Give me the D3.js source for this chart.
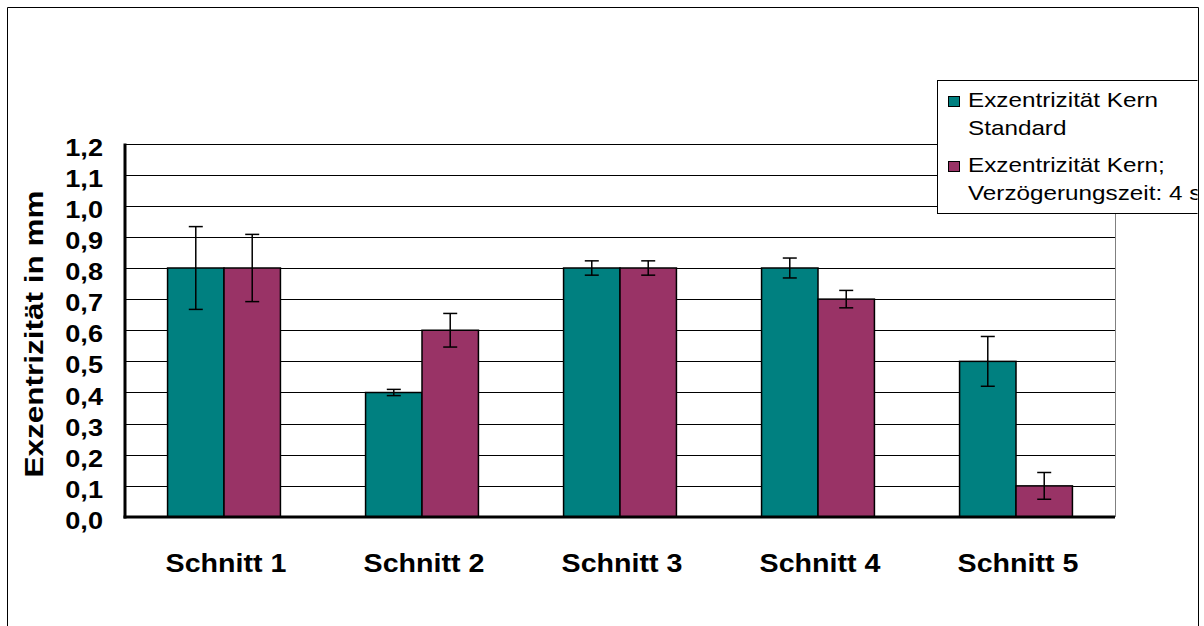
<!DOCTYPE html>
<html>
<head>
<meta charset="utf-8">
<script src="https://cdn.jsdelivr.net/npm/d3@7"></script>
<style>
  html, body { margin: 0; padding: 0; background: #fff; }
  svg { display: block; }
  text { font-family: "Liberation Sans", Arial, sans-serif; fill: #000; }
</style>
</head>
<body>
<svg id="chart" width="1204" height="626"></svg>
<script>
// ---- data ----
const categories = ["Schnitt 1", "Schnitt 2", "Schnitt 3", "Schnitt 4", "Schnitt 5"];
const seriesNames = ["Exzentrizität Kern Standard", "Exzentrizität Kern; Verzögerungszeit: 4 s"];
const legendLines = [["Exzentrizität Kern", "Standard"], ["Exzentrizität Kern;", "Verzögerungszeit: 4 s"]];
const standardValues = [0.8, 0.4, 0.8, 0.8, 0.5];
const delayValues = [0.8, 0.6, 0.8, 0.7, 0.1];
const standardErrors = [0.133, 0.01, 0.023, 0.032, 0.08];
const delayErrors = [0.108, 0.054, 0.023, 0.028, 0.043];
const yTicks = [0, 0.1, 0.2, 0.3, 0.4, 0.5, 0.6, 0.7, 0.8, 0.9, 1.0, 1.1, 1.2];
const yTitle = "Exzentrizität in mm";
const colors = ["#008080", "#993366"];

const series = [
  { name: seriesNames[0], values: standardValues, errors: standardErrors, color: colors[0] },
  { name: seriesNames[1], values: delayValues, errors: delayErrors, color: colors[1] }
];

const svg = d3.select("#chart");
const plot = { left: 125, right: 1115, top: 143.5, bottom: 517 };

const x0 = d3.scaleBand().domain(categories).range([plot.left, plot.right])
  .paddingInner(0.43).paddingOuter(0.215);
const x1 = d3.scaleBand().domain(d3.range(series.length)).range([0, x0.bandwidth()]);
const y = d3.scaleLinear().domain([0, 1.2]).range([plot.bottom, plot.top]);

function stretch(sel, k) {
  sel.each(function () {
    const w = this.getComputedTextLength();
    d3.select(this).attr("textLength", w * k).attr("lengthAdjust", "spacingAndGlyphs");
  });
}

// plot-area right border
svg.append("line")
  .attr("x1", plot.right + 0.5).attr("x2", plot.right + 0.5)
  .attr("y1", plot.top).attr("y2", plot.bottom)
  .attr("stroke", "#808080").attr("stroke-width", 1);

// gridlines
svg.append("g").selectAll("line").data(yTicks.filter(d => d > 0)).join("line")
  .attr("x1", plot.left).attr("x2", plot.right)
  .attr("y1", d => Math.round(y(d)) + 0.5).attr("y2", d => Math.round(y(d)) + 0.5)
  .attr("stroke", "#000").attr("stroke-width", 1);

// bars
const groups = svg.append("g").selectAll("g").data(categories).join("g")
  .attr("transform", c => `translate(${x0(c)},0)`);

groups.selectAll("rect").data((c, i) => series.map((s, si) => ({ si, v: s.values[i], color: s.color })))
  .join("rect")
  .attr("x", d => x1(d.si))
  .attr("width", x1.bandwidth())
  .attr("y", d => y(d.v))
  .attr("height", d => y(0) - y(d.v))
  .attr("fill", d => d.color)
  .attr("stroke", "#000").attr("stroke-width", 1.5);

// error bars
const capW = 14;
const eb = groups.selectAll("g.err").data((c, i) => series.map((s, si) => ({ si, v: s.values[i], e: s.errors[i] })))
  .join("g").attr("class", "err")
  .attr("transform", d => `translate(${x1(d.si) + x1.bandwidth() / 2},0)`);
eb.append("line").attr("x1", 0).attr("x2", 0)
  .attr("y1", d => y(d.v + d.e)).attr("y2", d => y(d.v - d.e))
  .attr("stroke", "#000").attr("stroke-width", 1.5);
eb.append("line").attr("x1", -capW / 2).attr("x2", capW / 2)
  .attr("y1", d => y(d.v + d.e)).attr("y2", d => y(d.v + d.e))
  .attr("stroke", "#000").attr("stroke-width", 1.5);
eb.append("line").attr("x1", -capW / 2).attr("x2", capW / 2)
  .attr("y1", d => y(d.v - d.e)).attr("y2", d => y(d.v - d.e))
  .attr("stroke", "#000").attr("stroke-width", 1.5);

// axes lines
svg.append("line").attr("x1", plot.left).attr("x2", plot.left)
  .attr("y1", plot.top).attr("y2", plot.bottom + 1.5)
  .attr("stroke", "#000").attr("stroke-width", 3);
svg.append("line").attr("x1", plot.left - 1.5).attr("x2", plot.right)
  .attr("y1", plot.bottom).attr("y2", plot.bottom)
  .attr("stroke", "#000").attr("stroke-width", 3);

// y axis tick labels
const fmt = d => d3.format(".1f")(d).replace(".", ",");
const yAxis = d3.axisLeft(y).tickValues(yTicks).tickFormat(fmt).tickSize(0).tickPadding(0);
const yg = svg.append("g").attr("transform", `translate(103,0)`).call(yAxis);
yg.select(".domain").remove();
yg.selectAll("text")
  .attr("font-family", "'Liberation Sans', Arial, sans-serif")
  .attr("font-size", 23).attr("font-weight", "bold").attr("fill", "#000")
  .attr("dy", "0.5em").attr("x", 0);
stretch(yg.selectAll("text"), 1.18);

// x category labels
const xl = svg.append("g").selectAll("text").data(categories).join("text")
  .attr("x", c => x0(c) + x0.bandwidth() / 2 + 2)
  .attr("y", 572)
  .attr("text-anchor", "middle")
  .attr("font-size", 25).attr("font-weight", "bold")
  .text(c => c);
stretch(xl, 1.145);

// y title
const yt = svg.append("text")
  .attr("transform", "translate(43,334) rotate(-90)")
  .attr("text-anchor", "middle")
  .attr("font-size", 25).attr("font-weight", "bold")
  .text(yTitle);
stretch(yt, 1.26);

// legend
const defs = svg.append("defs");
defs.append("clipPath").attr("id", "legclip").append("rect")
  .attr("x", 0).attr("y", 0).attr("width", 1197.5).attr("height", 626);
const leg = svg.append("g").attr("clip-path", "url(#legclip)");
leg.append("rect").attr("x", 937.5).attr("y", 80.5).attr("width", 262).attr("height", 133)
  .attr("fill", "#fff").attr("stroke", "#000").attr("stroke-width", 1);
const items = leg.selectAll("g.item").data(series).join("g").attr("class", "item")
  .attr("transform", (d, i) => `translate(0,${i * 65})`);
items.append("rect").attr("x", 948.5).attr("y", 96.5).attr("width", 11).attr("height", 10)
  .attr("fill", d => d.color).attr("stroke", "#000").attr("stroke-width", 1);
const lt = items.selectAll("text").data((d, i) => legendLines[i]).join("text")
  .attr("x", 968).attr("y", (d, j) => 107 + j * 28)
  .attr("font-size", 21)
  .text(d => d);
stretch(lt, 1.155);

// outer border
svg.append("path")
  .attr("d", "M7.5,640 V7.5 H1198.5 V640")
  .attr("fill", "none").attr("stroke", "#000").attr("stroke-width", 1);
</script>
</body>
</html>
